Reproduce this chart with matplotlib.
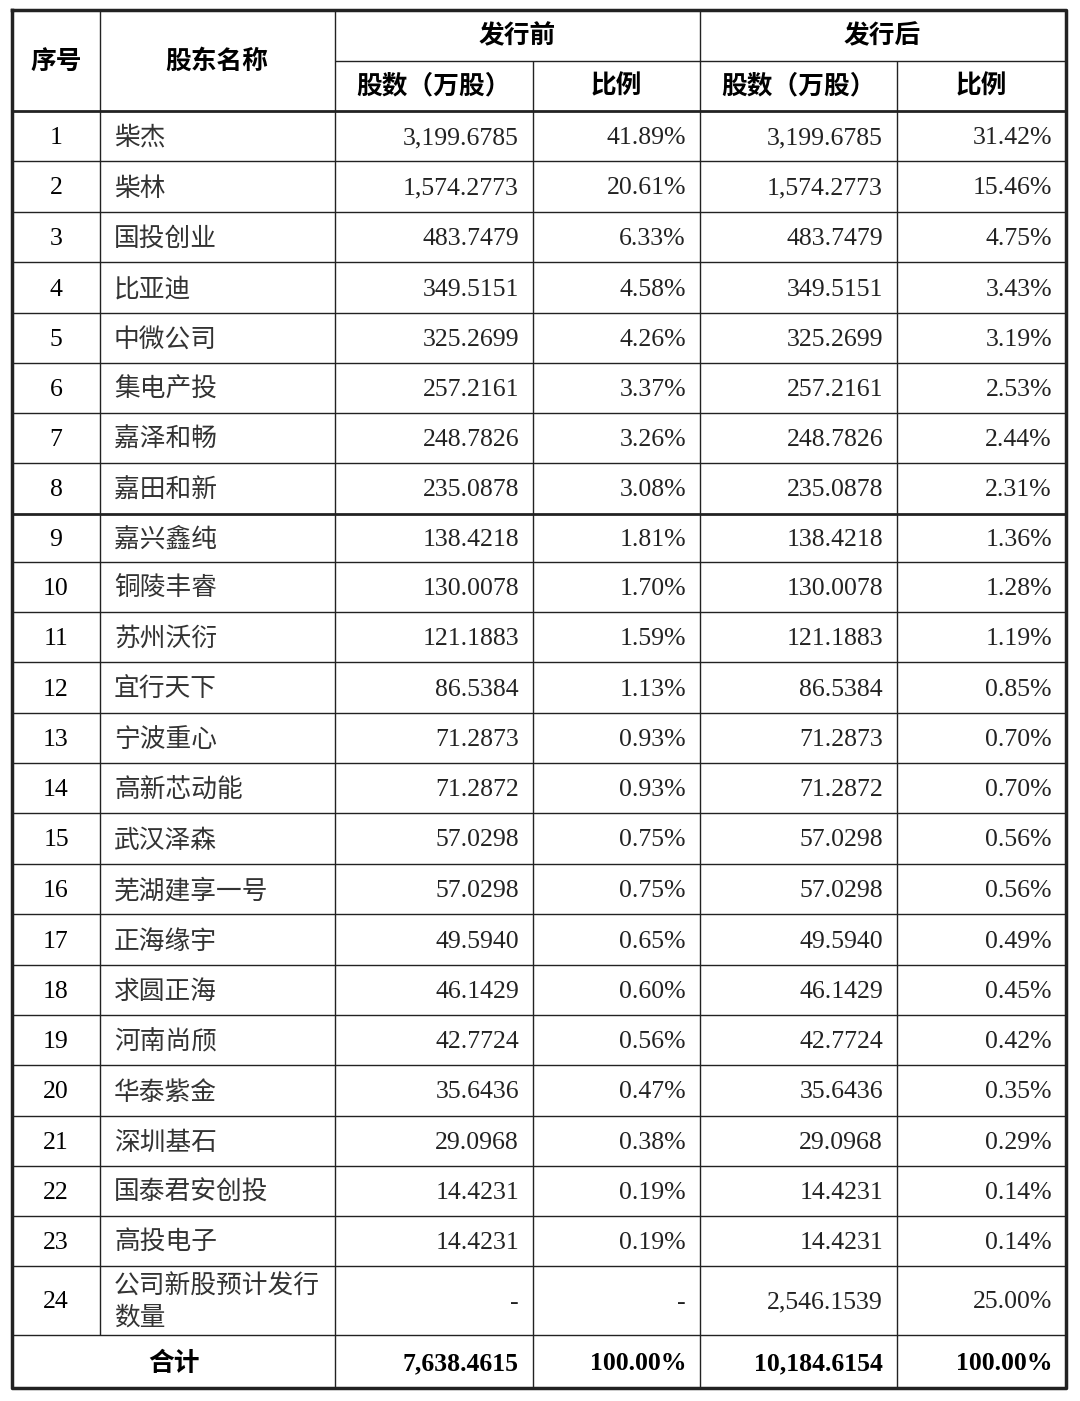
import matplotlib
matplotlib.use("Agg")
import matplotlib.pyplot as plt

names = ["柴杰","柴林","国投创业","比亚迪","中微公司","集电产投","嘉泽和畅","嘉田和新","嘉兴鑫纯","铜陵丰睿",
         "苏州沃衍","宜行天下","宁波重心","高新芯动能","武汉泽森","芜湖建享一号","正海缘宇","求圆正海","河南尚颀",
         "华泰紫金","深圳基石","国泰君安创投","高投电子","公司新股预计发行\n数量"]
pre_shares = ["3,199.6785","1,574.2773","483.7479","349.5151","325.2699","257.2161","248.7826","235.0878","138.4218",
              "130.0078","121.1883","86.5384","71.2873","71.2872","57.0298","57.0298","49.5940","46.1429","42.7724",
              "35.6436","29.0968","14.4231","14.4231","-"]
pre_pct = ["41.89%","20.61%","6.33%","4.58%","4.26%","3.37%","3.26%","3.08%","1.81%","1.70%","1.59%","1.13%",
           "0.93%","0.93%","0.75%","0.75%","0.65%","0.60%","0.56%","0.47%","0.38%","0.19%","0.19%","-"]
post_shares = pre_shares[:-1] + ["2,546.1539"]
post_pct = ["31.42%","15.46%","4.75%","3.43%","3.19%","2.53%","2.44%","2.31%","1.36%","1.28%","1.19%","0.85%",
            "0.70%","0.70%","0.56%","0.56%","0.49%","0.45%","0.42%","0.35%","0.29%","0.14%","0.14%","25.00%"]
total = ["合计","7,638.4615","100.00%","10,184.6154","100.00%"]

W, H = 1080, 1401
fig = plt.figure(figsize=(10.8, 14.01), dpi=100)
ax = fig.add_axes([0, 0, 1, 1])
ax.set_xlim(0, W); ax.set_ylim(H, 0); ax.axis("off")

CJK = ["Noto Sans CJK SC", "DejaVu Sans"]
SER = ["Liberation Serif", "Noto Sans CJK SC"]
xs = [12, 100, 335, 533, 700, 897, 1066]
ys = [111,161,212,262,313,363,413,463,514,562,612,662,713,763,813,864,914,965,1015,1065,1116,1166,1216,1266,1335,1388]
top, mid = 10, 61
lc = "#222222"

def hl(y, x0, x1, lw=1.0): ax.plot([x0, x1], [y, y], color=lc, lw=lw, solid_capstyle="butt")
def vl(x, y0, y1, lw=1.0): ax.plot([x, x], [y0, y1], color=lc, lw=lw, solid_capstyle="butt")

hl(mid, xs[2], xs[6])
for i, y in enumerate(ys):
    lw = 2.0 if y in (111, 514) else 1.0
    hl(y, xs[0], xs[6], lw)
for x in xs[1:-1]:
    if x == xs[1]:
        vl(x, top, ys[-2])
    elif x in (xs[3], xs[5]):
        vl(x, mid, ys[-1])
    else:
        vl(x, top, ys[-1])
ax.plot([xs[0], xs[6], xs[6], xs[0], xs[0]], [top, top, ys[-1], ys[-1], top], color=lc, lw=2.5)

fs = 18.5
dy = 2
ax.text(56, 61, "序号", ha="center", va="center", fontsize=fs, family=CJK, weight="bold")
ax.text(217, 61, "股东名称", ha="center", va="center", fontsize=fs, family=CJK, weight="bold")
ax.text(517, 36, "发行前", ha="center", va="center", fontsize=fs, family=CJK, weight="bold")
ax.text(882, 36, "发行后", ha="center", va="center", fontsize=fs, family=CJK, weight="bold")
for (a, b), t in zip([(xs[2], xs[3]), (xs[3], xs[4]), (xs[4], xs[5]), (xs[5], xs[6])],
                     ["股数（万股）", "比例", "股数（万股）", "比例"]):
    ax.text((a + b) / 2, 86, t, ha="center", va="center", fontsize=fs, family=CJK, weight="bold")

for i in range(24):
    yc = (ys[i] + ys[i + 1]) / 2 + dy
    ax.text(56, yc, str(i + 1), ha="center", va="center", fontsize=fs, family=SER)
    ax.text(114, yc, names[i], ha="left", va="center", fontsize=fs, family=CJK, color="#333333", linespacing=1.25)
    for x, v in zip([xs[3], xs[4], xs[5], xs[6]], [pre_shares[i], pre_pct[i], post_shares[i], post_pct[i]]):
        ax.text(x - 14, yc, v, ha="right", va="center", fontsize=fs, family=SER, color="#222222")

yc = (ys[-2] + ys[-1]) / 2 + dy
ax.text(174, yc, total[0], ha="center", va="center", fontsize=fs, family=CJK, weight="bold")
for x, v in zip([xs[3], xs[4], xs[5], xs[6]], total[1:]):
    ax.text(x - 14, yc, v, ha="right", va="center", fontsize=fs, family=SER, weight="bold")

fig.savefig("out.png", dpi=100, facecolor="white")
